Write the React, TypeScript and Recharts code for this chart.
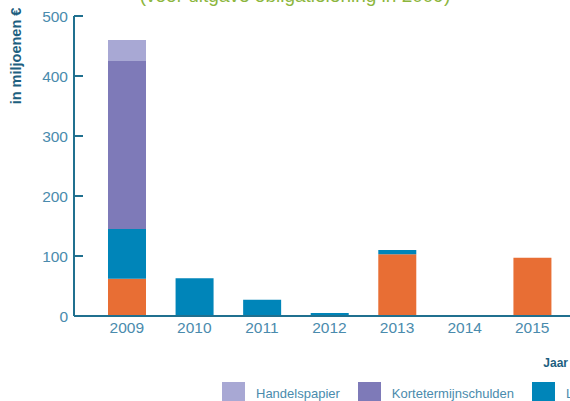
import React from 'react';
import { BarChart, Bar, XAxis, YAxis, Legend } from 'recharts';

const years = ['2009', '2010', '2011', '2012', '2013', '2014', '2015'];
const obligatielening = [62, 0, 0, 0, 103, 0, 97];
const langetermijnschulden = [83, 63, 27, 5, 7, 0, 0];
const kortetermijnschulden = [280, 0, 0, 0, 0, 0, 0];
const handelspapier = [35, 0, 0, 0, 0, 0, 0];
const yTicks = [0, 100, 200, 300, 400, 500];

const series = [
  { key: 'obligatielening', name: 'Obligatielening', color: '#e86e34' },
  { key: 'langetermijnschulden', name: 'Langetermijnschulden', color: '#0085b9' },
  { key: 'kortetermijnschulden', name: 'Kortetermijnschulden', color: '#7e7ab8' },
  { key: 'handelspapier', name: 'Handelspapier', color: '#a8a8d4' },
];

const data = years.map((y, i) => ({
  year: y,
  obligatielening: obligatielening[i],
  langetermijnschulden: langetermijnschulden[i],
  kortetermijnschulden: kortetermijnschulden[i],
  handelspapier: handelspapier[i],
}));

const AXIS = '#20708f';
const TICK = '#4a8bad';
const FONT = '"Liberation Sans", Arial, sans-serif';

const YTick = (props: any) => {
  const { x, y, payload } = props;
  return (
    <g>
      <line x1={x} x2={x + 9} y1={y} y2={y} stroke={AXIS} strokeWidth={2} />
      <text x={x - 6} y={y} dy="0.355em" textAnchor="end" fill={TICK} fontSize={15.5} fontFamily={FONT}>
        {payload.value}
      </text>
    </g>
  );
};

const renderLegend = () => (
  <div style={{ display: 'flex', alignItems: 'center', whiteSpace: 'nowrap', fontFamily: FONT }}>
    {[...series].reverse().map((s) => (
      <div key={s.key} style={{ display: 'flex', alignItems: 'center', marginRight: 18 }}>
        <div style={{ width: 23, height: 23, background: s.color, marginRight: 11 }} />
        <span style={{ fontSize: 13, color: TICK }}>{s.name}</span>
      </div>
    ))}
  </div>
);

export default function App() {
  return (
    <div style={{ position: 'absolute', left: 0, top: 0, width: 570, height: 401, overflow: 'hidden', background: '#fff' }}>
      <BarChart width={570} height={401} data={data} margin={{ top: 16, right: 0, left: 0, bottom: 55 }}>
        <text x={295} y={2} textAnchor="middle" fill="#8cb63c" fontSize={19} fontFamily={FONT}>
          (voor uitgave obligatielening in 2009)
        </text>
        <text
          x={16}
          y={56}
          transform="rotate(-90, 16, 56)"
          textAnchor="middle"
          dy="0.35em"
          fill="#1d5f80"
          fontSize={14.5}
          fontWeight="bold"
          fontFamily={FONT}
        >
          in miljoenen €
        </text>
        <text x={568} y={363} dy="0.35em" textAnchor="end" fill="#1d5f80" fontSize={12} fontWeight="bold" fontFamily={FONT}>
          Jaar
        </text>
        <XAxis
          dataKey="year"
          height={30}
          padding={{ left: 19, right: 4 }}
          axisLine={{ stroke: AXIS, strokeWidth: 2 }}
          tickLine={false}
          tickSize={0}
          tickMargin={6}
          tick={{ fill: TICK, fontSize: 15.5, fontFamily: FONT }}
        />
        <YAxis
          width={74}
          domain={[0, 500]}
          ticks={yTicks}
          axisLine={{ stroke: AXIS, strokeWidth: 2 }}
          tickLine={false}
          tickSize={0}
          tickMargin={0}
          tick={<YTick />}
        />
        <Legend
          verticalAlign="middle"
          layout="horizontal"
          content={renderLegend}
          wrapperStyle={{ position: 'absolute', left: 222, top: 382, width: 900, height: 23 }}
        />
        {series.map((s) => (
          <Bar key={s.key} dataKey={s.key} name={s.name} stackId="a" fill={s.color} barSize={38} isAnimationActive={false} />
        ))}
      </BarChart>
    </div>
  );
}
